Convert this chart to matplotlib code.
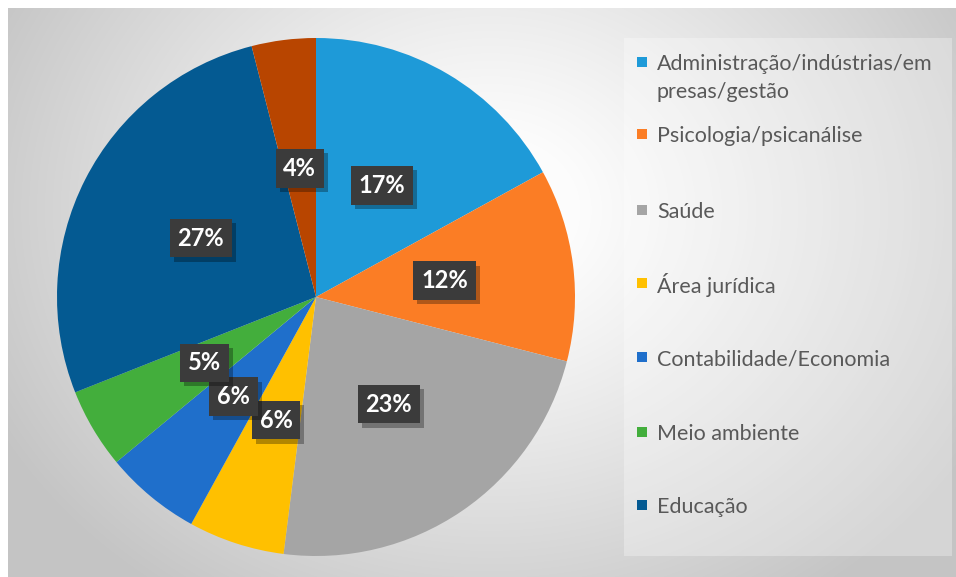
import numpy as np
import matplotlib.pyplot as plt
from matplotlib.patches import Rectangle
import matplotlib.patheffects as pe

# --- dados ---
categorias = ["Administração/indústrias/em\npresas/gestão", "Psicologia/psicanálise", "Saúde",
              "Área jurídica", "Contabilidade/Economia", "Meio ambiente", "Educação", "Outros"]
valores = [17, 12, 23, 6, 6, 5, 27, 4]
cores = ["#1E9AD8", "#FB7D25", "#A5A5A5", "#FFC000", "#1F6FCB", "#43AE3C", "#045A92", "#B84500"]
n_legenda = 7  # a última fatia não aparece na legenda

W, H = 956, 577
fig = plt.figure(figsize=(W / 100, H / 100), dpi=100)
fig.patch.set_facecolor("white")

# --- fundo com gradiente radial ---
bg = fig.add_axes([0, 0, 1, 1])
yy, xx = np.mgrid[0:H, 0:W]
d = np.sqrt(((xx - 490) / 560.0) ** 2 + ((yy - 210) / 470.0) ** 2)
g = 0.99 - 0.22 * np.clip((d - 0.15) / 0.85, 0, 1) ** 1.1
img = np.dstack([g, g, g])
img[:8, :, :] = 1.0
img[:, :8, :] = 1.0
bg.imshow(img, extent=(0, W, H, 0), aspect="auto", interpolation="bilinear")
bg.set_xlim(0, W)
bg.set_ylim(H, 0)
bg.axis("off")

# --- pizza ---
cx, cy, R = 316, 297, 259
ax = fig.add_axes([(cx - R) / W, (H - cy - R) / H, 2 * R / W, 2 * R / H])
wedges, _, autotexts = ax.pie(valores, colors=cores, startangle=90, counterclock=False,
                              autopct="%.0f%%", pctdistance=0.5,
                              wedgeprops=dict(linewidth=0))
ax.set_xlim(-1, 1)
ax.set_ylim(-1, 1)
ax.set_aspect("equal")
ax.axis("off")

for t in autotexts:
    t.set_color("white")
    t.set_fontsize(17)
    t.set_fontweight("bold")
    t.set_family(["Lato", "DejaVu Sans"])
    t.set_bbox(dict(boxstyle="square,pad=0.33", facecolor="#3B3B3B",
                    edgecolor="none", linewidth=0))
    t.get_bbox_patch().set_path_effects([
        pe.SimplePatchShadow(offset=(3, -3), shadow_rgbFace="black", alpha=0.3),
        pe.Normal()])

# --- legenda manual ---
lg = fig.add_axes([0, 0, 1, 1], facecolor="none")
lg.set_xlim(0, W)
lg.set_ylim(H, 0)
lg.axis("off")
lg.add_patch(Rectangle((624, 38), 328, 518, facecolor="white", alpha=0.3, edgecolor="none"))
linhas_y = [62, 134, 210, 283, 357, 432, 505]
for i in range(n_legenda):
    y = linhas_y[i]
    lg.add_patch(Rectangle((637, y - 5), 10, 10, facecolor=cores[i], edgecolor="none"))
    for k, parte in enumerate(categorias[i].split("\n")):
        lg.text(657, y + 28 * k, parte, fontsize=15.5, color="#595959", va="center_baseline",
                ha="left", family=["Lato", "DejaVu Sans"])

fig.savefig("out.png", dpi=100)
